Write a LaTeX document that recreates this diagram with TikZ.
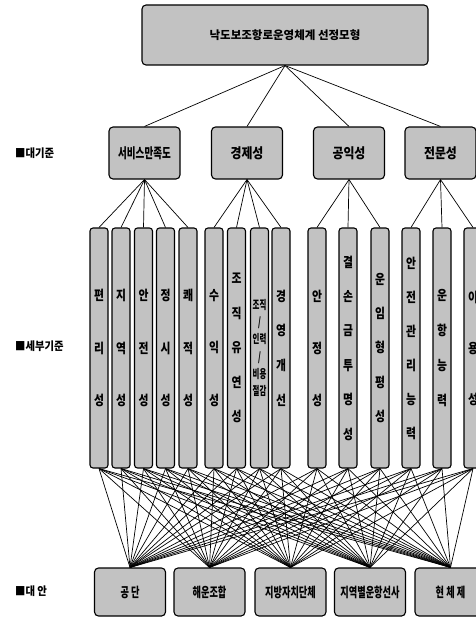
\documentclass[tikz,border=0pt]{standalone}
\usepackage{fontspec}
\newfontfamily\krT{Noto Sans CJK KR}[FakeStretch=1.0]
\newfontfamily\krC{Noto Sans CJK KR}[FakeStretch=0.85]
\newfontfamily\krW{Noto Sans CJK KR}[FakeStretch=0.68]
\newfontfamily\krK{Noto Sans CJK KR}[FakeStretch=0.8]
\newfontfamily\krN{Noto Sans CJK KR}[FakeStretch=0.62]
\newfontfamily\krA{Noto Sans CJK KR}[FakeStretch=0.68]
\newfontfamily\krL{Noto Sans CJK KR}[FakeStretch=0.9]
\begin{document}
\begin{tikzpicture}[x=1pt,y=-1pt,
  box/.style={draw=black,line width=1.1pt,rounded corners=4pt,fill=black!24,inner sep=0pt},
  colbox/.style={box,rounded corners=3pt,minimum width=18pt,minimum height=240pt,align=center},
  crit/.style={box,minimum width=71pt,minimum height=52pt,font=\krC\bfseries\fontsize{14}{16}\selectfont},
  alt/.style={box,minimum width=71pt,minimum height=48pt,font=\krA\bfseries\fontsize{13.5}{15}\selectfont},
  link/.style={draw=black,line width=0.7pt},
  lab/.style={anchor=west,inner sep=0pt,font=\krL\bfseries\fontsize{11.5}{13}\selectfont}
]
\useasboundingbox (0,0) rectangle (475,618);

% top goal
\node[box,minimum width=286pt,minimum height=60pt,font=\krT\bfseries\fontsize{11.5}{13}\selectfont] (top) at (285,35) {낙도보조항로운영체계 선정모형};

% criteria
\node[crit,font=\krW\bfseries\fontsize{14}{16}\selectfont] (k1) at (144.5,153) {서비스만족도};
\node[crit] (k2) at (247,153) {경제성};
\node[crit] (k3) at (349,153) {공익성};
\node[crit] (k4) at (440.5,153) {전문성};

% sub-criteria columns
\foreach \i/\x/\sp/\t in {
  1/99/52.5/{편\\리\\성},
  2/121/52.5/{지\\역\\성},
  3/143.5/52.5/{안\\전\\성},
  4/165.5/52.5/{정\\시\\성},
  5/188/52.5/{쾌\\적\\성},
  6/214/52.5/{수\\익\\성},
  7/236.5/34.5/{조\\직\\유\\연\\성},
  9/281/34.7/{경\\영\\개\\선},
  10/317/52/{안\\정\\성},
  11/348/34.4/{결\\손\\금\\투\\명\\성},
  12/380/34.2/{운\\임\\형\\평\\성},
  13/411/34/{안\\전\\관\\리\\능\\력},
  14/442/34.7/{운\\항\\능\\력},
  15/473/51/{이\\용\\성}}{
  \node[colbox,font=\krK\bfseries\fontsize{13.5}{\sp}\selectfont] (c\i) at (\x,348) {\t};
}
\node[colbox,font=\krN\bfseries\fontsize{12}{17.2}\selectfont] (c8) at (259.5,348) {조직\\/\\인력\\/\\비용\\절감};

% alternatives
\node[alt] (a1) at (130,592) {공 단};
\node[alt] (a2) at (209.5,592) {해운조합};
\node[alt] (a3) at (290.5,592) {지방자치단체};
\node[alt] (a4) at (370,592) {지역별운항선사};
\node[alt] (a5) at (450.5,592) {현 체 제};

% level labels
\node[lab] (l1) at (15,153) {■대기준};
\node[lab] (l2) at (15,346) {■세부기준};
\node[lab] (l3) at (15,591) {■대 안};

% connectors
\foreach \j in {1,...,4} \draw[link] (top.south) -- (k\j.north);
\foreach \i in {1,...,5} \draw[link] (k1.south) -- (c\i.north);
\foreach \i in {6,...,9} \draw[link] (k2.south) -- (c\i.north);
\foreach \i in {10,...,12} \draw[link] (k3.south) -- (c\i.north);
\foreach \i in {13,...,15} \draw[link] (k4.south) -- (c\i.north);
\foreach \i in {1,...,15} {
  \foreach \j in {1,...,5} {
    \draw[link] (c\i.south) -- (a\j.north);
  }
}
\end{tikzpicture}
\end{document}
